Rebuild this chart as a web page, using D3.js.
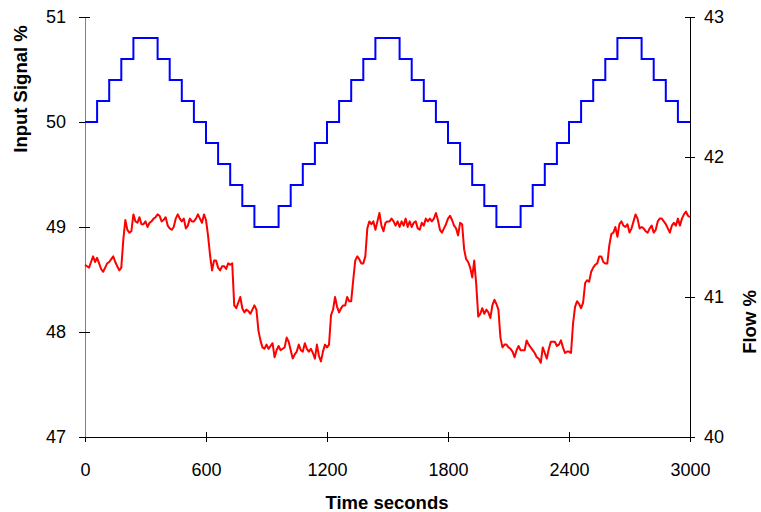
<!DOCTYPE html>
<html>
<head>
<meta charset="utf-8">
<script src="https://cdn.jsdelivr.net/npm/d3@7"></script>
<style>
  body { margin: 0; background: #fff; }
  svg { font-family: "Liberation Sans", Arial, sans-serif; }
  .axis text { font-size: 18px; fill: #000; }
  .title { font-size: 18.5px; font-weight: bold; }
</style>
</head>
<body>
<svg width="761" height="512"></svg>
<script>
// input signal, one value per 60 s step
var stepSeconds = 60;
var inputSignal = [50.0, 50.2, 50.4, 50.6, 50.8, 50.8, 50.6, 50.4, 50.2, 50.0,
                   49.8, 49.6, 49.4, 49.2, 49.0, 49.0, 49.2, 49.4, 49.6, 49.8,
                   50.0, 50.2, 50.4, 50.6, 50.8, 50.8, 50.6, 50.4, 50.2, 50.0,
                   49.8, 49.6, 49.4, 49.2, 49.0, 49.0, 49.2, 49.4, 49.6, 49.8,
                   50.0, 50.2, 50.4, 50.6, 50.8, 50.8, 50.6, 50.4, 50.2, 50.0];

// flow, sampled every 10 s
var flowSeconds = 10;
var flow = [41.23, 41.22, 41.21, 41.25, 41.29, 41.25, 41.28, 41.24, 41.20, 41.18,
            41.21, 41.24, 41.25, 41.27, 41.29, 41.25, 41.22, 41.19, 41.21, 41.41,
            41.55, 41.48, 41.46, 41.47, 41.59, 41.54, 41.53, 41.57, 41.52, 41.52,
            41.54, 41.50, 41.53, 41.54, 41.56, 41.57, 41.59, 41.58, 41.54, 41.55,
            41.57, 41.51, 41.49, 41.48, 41.50, 41.56, 41.59, 41.56, 41.54, 41.56,
            41.49, 41.51, 41.56, 41.54, 41.54, 41.56, 41.59, 41.56, 41.53, 41.59,
            41.55, 41.44, 41.30, 41.19, 41.26, 41.26, 41.21, 41.19, 41.22, 41.22,
            41.20, 41.24, 41.23, 41.24, 40.94, 40.92, 40.96, 41.00, 40.92, 40.89,
            40.91, 40.90, 40.88, 40.91, 40.94, 40.91, 40.76, 40.69, 40.64, 40.63,
            40.66, 40.63, 40.65, 40.67, 40.57, 40.62, 40.65, 40.62, 40.63, 40.64,
            40.71, 40.68, 40.62, 40.56, 40.59, 40.61, 40.66, 40.62, 40.61, 40.67,
            40.63, 40.61, 40.63, 40.60, 40.56, 40.66, 40.58, 40.54, 40.61, 40.66,
            40.64, 40.66, 40.87, 40.91, 41.00, 40.93, 40.89, 40.92, 40.94, 40.94,
            41.00, 40.97, 40.97, 41.12, 41.26, 41.29, 41.27, 41.24, 41.24, 41.29,
            41.49, 41.54, 41.52, 41.54, 41.48, 41.54, 41.60, 41.51, 41.47, 41.53,
            41.54, 41.54, 41.56, 41.54, 41.51, 41.54, 41.50, 41.54, 41.51, 41.56,
            41.50, 41.54, 41.50, 41.53, 41.54, 41.49, 41.48, 41.53, 41.51, 41.56,
            41.54, 41.56, 41.54, 41.56, 41.60, 41.55, 41.48, 41.46, 41.49, 41.52,
            41.56, 41.58, 41.55, 41.51, 41.49, 41.44, 41.53, 41.52, 41.34, 41.27,
            41.25, 41.21, 41.14, 41.26, 41.09, 40.86, 40.88, 40.92, 40.88, 40.91,
            40.89, 40.85, 40.94, 40.98, 40.95, 40.91, 40.71, 40.64, 40.66, 40.66,
            40.64, 40.63, 40.61, 40.57, 40.62, 40.65, 40.62, 40.62, 40.62, 40.69,
            40.66, 40.64, 40.62, 40.60, 40.57, 40.56, 40.53, 40.64, 40.60, 40.56,
            40.63, 40.68, 40.68, 40.68, 40.65, 40.66, 40.69, 40.64, 40.60, 40.61,
            40.61, 40.60, 40.81, 40.93, 40.97, 40.95, 40.92, 40.96, 41.10, 41.12,
            41.11, 41.18, 41.21, 41.23, 41.24, 41.29, 41.29, 41.25, 41.24, 41.24,
            41.37, 41.45, 41.46, 41.50, 41.43, 41.52, 41.54, 41.51, 41.50, 41.52,
            41.46, 41.49, 41.54, 41.59, 41.56, 41.49, 41.50, 41.49, 41.47, 41.46,
            41.49, 41.51, 41.46, 41.48, 41.54, 41.56, 41.56, 41.54, 41.52, 41.49,
            41.46, 41.51, 41.53, 41.51, 41.56, 41.51, 41.56, 41.59, 41.61, 41.58,
            41.57];

var timeTicks = [0, 600, 1200, 1800, 2400, 3000];
var inputTicks = [47, 48, 49, 50, 51];
var flowTicks = [40, 41, 42, 43];

var svg = d3.select("svg"),
    margin = {top: 17, right: 71, bottom: 75, left: 85},
    width = svg.attr("width") - margin.left - margin.right,
    height = svg.attr("height") - margin.top - margin.bottom,
    g = svg.append("g").attr("transform", "translate(" + margin.left + "," + margin.top + ")");

var x = d3.scaleLinear().domain([0, 3000]).range([0, width]),
    yIn = d3.scaleLinear().domain([47, 51]).range([height, 0]),
    yFlow = d3.scaleLinear().domain([40, 43]).range([height, 0]);

// input steps, last value held to the end
var inputPoints = inputSignal.map(function(v, i) { return {t: i * stepSeconds, v: v}; });
inputPoints.push({t: inputSignal.length * stepSeconds, v: inputSignal[inputSignal.length - 1]});

var flowPoints = flow.map(function(v, i) { return {t: i * flowSeconds, v: v}; });

var inputLine = d3.line()
    .curve(d3.curveStepAfter)
    .x(function(d) { return x(d.t); })
    .y(function(d) { return yIn(d.v); });

var flowLine = d3.line()
    .x(function(d) { return x(d.t); })
    .y(function(d) { return yFlow(d.v); });

var fmt = d3.format("d");

var xAxis = g.append("g")
    .attr("class", "axis")
    .attr("transform", "translate(0," + height + ")")
    .call(d3.axisBottom(x).tickValues(timeTicks).tickFormat(fmt).tickSize(5).tickSizeOuter(0));
xAxis.selectAll(".tick line").attr("y1", -5).attr("y2", 5).attr("stroke", "#000");
xAxis.selectAll(".tick text").attr("y", 26);
xAxis.select(".domain").attr("stroke", "#000");

var leftAxis = g.append("g")
    .attr("class", "axis")
    .call(d3.axisLeft(yIn).tickValues(inputTicks).tickFormat(fmt).tickSize(5).tickSizeOuter(0).tickPadding(14));
leftAxis.selectAll(".tick line").attr("x1", -6).attr("x2", 5).attr("stroke", "#000");
leftAxis.select(".domain").attr("stroke", "#808080");

var rightAxis = g.append("g")
    .attr("class", "axis")
    .attr("transform", "translate(" + width + ",0)")
    .call(d3.axisRight(yFlow).tickValues(flowTicks).tickFormat(fmt).tickSize(5).tickSizeOuter(0).tickPadding(9));
rightAxis.selectAll(".tick line").attr("x1", -5).attr("x2", 5).attr("stroke", "#000");
rightAxis.select(".domain").attr("stroke", "#000");

svg.selectAll(".axis").attr("font-family", null).attr("font-size", null);

g.append("path")
    .datum(flowPoints)
    .attr("fill", "none")
    .attr("stroke", "#ff0000")
    .attr("stroke-width", 2)
    .attr("stroke-linejoin", "round")
    .attr("d", flowLine);

g.append("path")
    .datum(inputPoints)
    .attr("fill", "none")
    .attr("stroke", "#0000ff")
    .attr("stroke-width", 2)
    .attr("d", inputLine);

svg.append("text")
    .attr("class", "title")
    .attr("x", 387)
    .attr("y", 509)
    .attr("text-anchor", "middle")
    .text("Time seconds");

svg.append("text")
    .attr("class", "title")
    .attr("transform", "translate(27,89) rotate(-90)")
    .attr("text-anchor", "middle")
    .text("Input Signal %");

svg.append("text")
    .attr("class", "title")
    .attr("transform", "translate(756,322) rotate(-90)")
    .attr("text-anchor", "middle")
    .text("Flow %");
</script>
</body>
</html>
